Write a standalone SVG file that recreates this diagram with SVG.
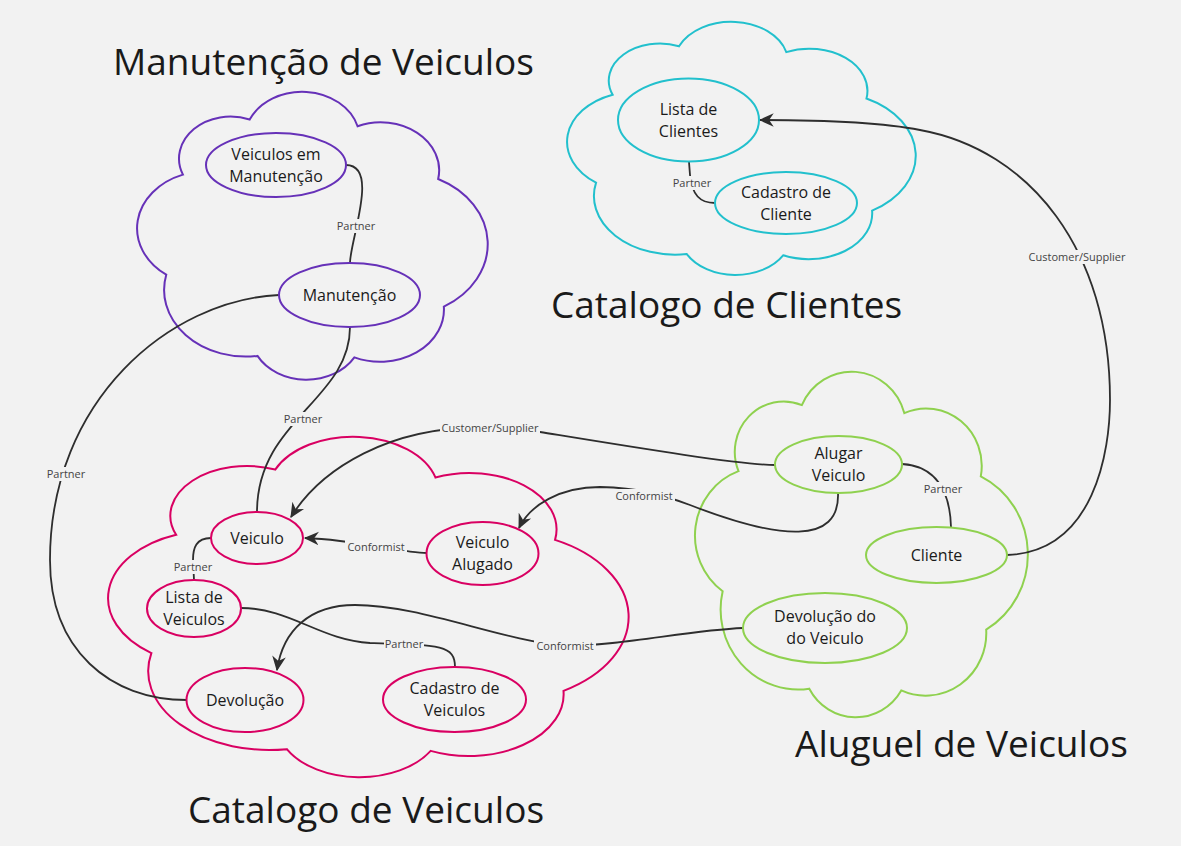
<svg xmlns="http://www.w3.org/2000/svg" width="1181" height="846" viewBox="0 0 1181 846">
<defs>
<style>
.cloud{fill:none;stroke-width:2}
.node{fill:none;stroke-width:2}
.purple{stroke:#6631b8}
.cyan{stroke:#22c0cd}
.red{stroke:#d90062}
.green{stroke:#8fd14f}
.t{font-family:"Open Sans","Noto Sans","Liberation Sans",sans-serif;font-size:16px;fill:#1a1a1a;text-anchor:middle}
.title{font-family:"Open Sans","Noto Sans","Liberation Sans",sans-serif;font-size:37px;fill:#1a1a1a}
.edge{fill:none;stroke:#2e2e2e;stroke-width:1.8}
.lbl{font-family:"Open Sans","Noto Sans","Liberation Sans",sans-serif;font-size:11px;fill:#444;text-anchor:middle}
.lb{fill:#f2f2f2}
</style>
<marker id="arr" markerUnits="userSpaceOnUse" markerWidth="16" markerHeight="16" viewBox="0 0 14 14" refX="12" refY="7" orient="auto">
<path d="M0,1 L13,7 L0,13 L4,7 Z" fill="#2e2e2e"/>
</marker>
</defs>
<rect width="1181" height="846" fill="#f2f2f2"/>

<g id="clouds">
<path id="cloud-manutencao" class="cloud purple" vector-effect="non-scaling-stroke" transform="translate(135,92) scale(3.55,2.90)" d="M13.5,28.5 A14.5,14.5 0 0 1 32.3,9.5 A16.2,16.2 0 0 1 62.7,11.8 A16.5,16.5 0 0 1 85.4,30 A25,25 0 0 1 87,74 A18,18 0 0 1 61.8,91.5 A15.7,15.7 0 0 1 34.5,91 A23,23 0 0 1 8.8,63 A19.7,19.7 0 0 1 13.5,28.5 Z"/>
<path id="cloud-clientes" class="cloud cyan" vector-effect="non-scaling-stroke" transform="translate(565,22) scale(3.53,2.55)" d="M13.5,28.5 A14.5,14.5 0 0 1 32.3,9.5 A16.2,16.2 0 0 1 62.7,11.8 A16.5,16.5 0 0 1 85.4,30 A25,25 0 0 1 87,74 A18,18 0 0 1 61.8,91.5 A15.7,15.7 0 0 1 34.5,91 A23,23 0 0 1 8.8,63 A19.7,19.7 0 0 1 13.5,28.5 Z"/>
<path id="cloud-veiculos" class="cloud red" vector-effect="non-scaling-stroke" transform="translate(105,437) scale(5.27,3.43)" d="M13.5,28.5 A14.5,14.5 0 0 1 32.3,9.5 A16.2,16.2 0 0 1 62.7,11.8 A16.5,16.5 0 0 1 85.4,30 A25,25 0 0 1 87,74 A18,18 0 0 1 61.8,91.5 A15.7,15.7 0 0 1 34.5,91 A23,23 0 0 1 8.8,63 A19.7,19.7 0 0 1 13.5,28.5 Z"/>
<path id="cloud-aluguel" class="cloud green" vector-effect="non-scaling-stroke" transform="translate(693,372) scale(3.37,3.48)" d="M13.5,28.5 A14.5,14.5 0 0 1 32.3,9.5 A16.2,16.2 0 0 1 62.7,11.8 A16.5,16.5 0 0 1 85.4,30 A25,25 0 0 1 87,74 A18,18 0 0 1 61.8,91.5 A15.7,15.7 0 0 1 34.5,91 A23,23 0 0 1 8.8,63 A19.7,19.7 0 0 1 13.5,28.5 Z"/>
</g>

<g id="titles">
<text class="title" x="113" y="75">Manutenção de Veiculos</text>
<text class="title" x="551" y="318">Catalogo de Clientes</text>
<text class="title" x="188" y="823">Catalogo de Veiculos</text>
<text class="title" x="795" y="757">Aluguel de Veiculos</text>
</g>

<g id="connectors">
<path class="edge" d="M346,165 C380,165 350,240 350,263"/>
<path class="edge" d="M350,327 C350,400 257,420 257,512"/>
<path class="edge" d="M279,295 C170,300 50,400 50,560 C50,650 110,700 187,700"/>
<path class="edge" marker-end="url(#arr)" d="M775,465 C740,465 620,445 540,432 C520,429 505,428 490,428 C390,424 320,470 291,517"/>
<path class="edge" marker-end="url(#arr)" d="M838,493 C840,545 780,540 690,505 C660,494 640,488 600,487 C560,487 530,505 519,528"/>
<path class="edge" marker-end="url(#arr)" d="M427,553 C400,553 360,540 305,538"/>
<path class="edge" d="M211,538 C196,538 193,548 193,560 L194,580"/>
<path class="edge" d="M241,608 C290,608 320,640 370,643 C440,645 455,645 455,667"/>
<path class="edge" marker-end="url(#arr)" d="M743,628 C690,630 620,646 565,646 C500,640 420,605 355,605 C310,605 283,630 277,670"/>
<path class="edge" marker-end="url(#arr)" d="M1007,555 C1095,552 1110,450 1110,400 C1110,250 1030,150 920,130 C880,122 820,120 760,120"/>
<path class="edge" d="M902,464 C935,466 950,490 951,527"/>
<path class="edge" d="M689,162 L690,175 C692,195 700,203 715,203"/>

<rect class="lb" x="336" y="219" width="40" height="14"/><text class="lbl" x="356" y="230">Partner</text>
<rect class="lb" x="283" y="412" width="40" height="14"/><text class="lbl" x="303" y="423">Partner</text>
<rect class="lb" x="46" y="467" width="40" height="14"/><text class="lbl" x="66" y="478">Partner</text>
<rect class="lb" x="440" y="421" width="100" height="14"/><text class="lbl" x="490" y="432">Customer/Supplier</text>
<rect class="lb" x="613" y="489" width="62" height="14"/><text class="lbl" x="644" y="500">Conformist</text>
<rect class="lb" x="345" y="540" width="62" height="14"/><text class="lbl" x="376" y="551">Conformist</text>
<rect class="lb" x="173" y="560" width="40" height="14"/><text class="lbl" x="193" y="571">Partner</text>
<rect class="lb" x="384" y="637" width="40" height="14"/><text class="lbl" x="404" y="648">Partner</text>
<rect class="lb" x="534" y="639" width="62" height="14"/><text class="lbl" x="565" y="650">Conformist</text>
<rect class="lb" x="1027" y="250" width="100" height="14"/><text class="lbl" x="1077" y="261">Customer/Supplier</text>
<rect class="lb" x="923" y="482" width="40" height="14"/><text class="lbl" x="943" y="493">Partner</text>
<rect class="lb" x="672" y="176" width="40" height="14"/><text class="lbl" x="692" y="187">Partner</text>
</g>

<g id="node-veiculos-em-manutencao">
<ellipse class="node purple" cx="276" cy="165" rx="70" ry="32"/>
<text class="t" x="276" y="160">Veiculos em</text><text class="t" x="276" y="182">Manutenção</text>
</g>
<g id="node-manutencao">
<ellipse class="node purple" cx="349.5" cy="295" rx="70.5" ry="32"/>
<text class="t" x="349.5" y="301">Manutenção</text>
</g>
<g id="node-lista-de-clientes">
<ellipse class="node cyan" cx="688.5" cy="120" rx="70.5" ry="41.5"/>
<text class="t" x="688.5" y="115">Lista de</text><text class="t" x="688.5" y="137">Clientes</text>
</g>
<g id="node-cadastro-de-cliente">
<ellipse class="node cyan" cx="786" cy="203" rx="71" ry="31"/>
<text class="t" x="786" y="198">Cadastro de</text><text class="t" x="786" y="220">Cliente</text>
</g>
<g id="node-veiculo">
<ellipse class="node red" cx="257" cy="538" rx="46" ry="26"/>
<text class="t" x="257" y="544">Veiculo</text>
</g>
<g id="node-veiculo-alugado">
<ellipse class="node red" cx="482.5" cy="553.5" rx="56" ry="31.5"/>
<text class="t" x="482.5" y="548">Veiculo</text><text class="t" x="482.5" y="570">Alugado</text>
</g>
<g id="node-lista-de-veiculos">
<ellipse class="node red" cx="194" cy="608.5" rx="47" ry="28.5"/>
<text class="t" x="194" y="603">Lista de</text><text class="t" x="194" y="625">Veiculos</text>
</g>
<g id="node-devolucao">
<ellipse class="node red" cx="245" cy="700" rx="58.5" ry="32"/>
<text class="t" x="245" y="706">Devolução</text>
</g>
<g id="node-cadastro-de-veiculos">
<ellipse class="node red" cx="454.5" cy="699.5" rx="71.5" ry="32.5"/>
<text class="t" x="454.5" y="694">Cadastro de</text><text class="t" x="454.5" y="716">Veiculos</text>
</g>
<g id="node-alugar-veiculo">
<ellipse class="node green" cx="838.5" cy="464.5" rx="63.5" ry="28.5"/>
<text class="t" x="838.5" y="459">Alugar</text><text class="t" x="838.5" y="481">Veiculo</text>
</g>
<g id="node-cliente">
<ellipse class="node green" cx="936.5" cy="555" rx="70.5" ry="28"/>
<text class="t" x="936.5" y="561">Cliente</text>
</g>
<g id="node-devolucao-do-veiculo">
<ellipse class="node green" cx="825" cy="628" rx="82" ry="35"/>
<text class="t" x="825" y="622">Devolução do</text><text class="t" x="825" y="644">do Veiculo</text>
</g>
</svg>
